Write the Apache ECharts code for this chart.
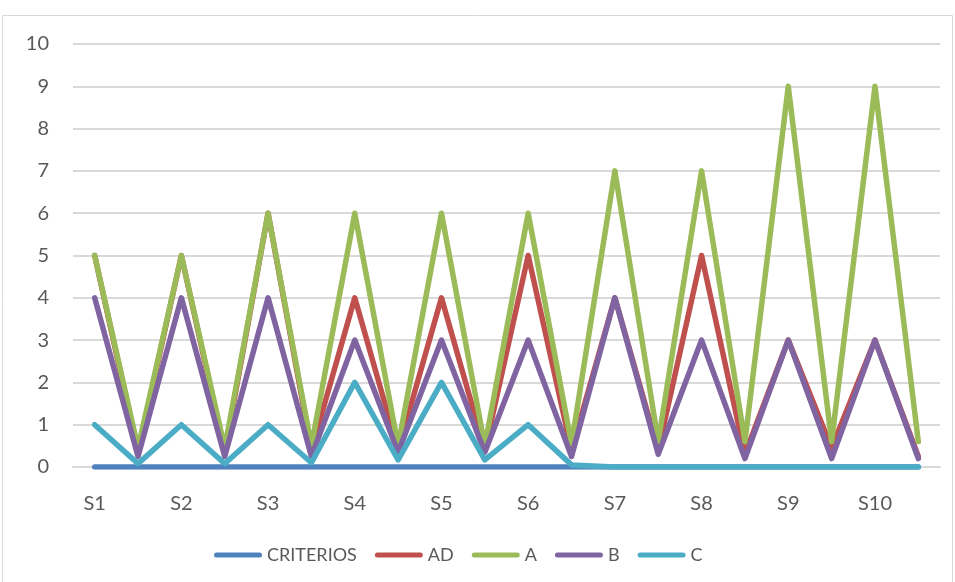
<!DOCTYPE html>
<html>
<head>
<meta charset="utf-8">
<script src="https://cdn.jsdelivr.net/npm/echarts@6/dist/echarts.min.js"></script>
<style>
  html, body { margin: 0; padding: 0; background: #fff; }
  #main { width: 955px; height: 582px; }
</style>
</head>
<body>
<div id="main"></div>
<script>
// categorias: S1..S10 con un punto intermedio sin etiqueta
var categorias = ['S1', '', 'S2', '', 'S3', '', 'S4', '', 'S5', '', 'S6', '', 'S7', '', 'S8', '', 'S9', '', 'S10', ''];
var yTicks = [0, 1, 2, 3, 4, 5, 6, 7, 8, 9, 10];

var criterios = [0, 0, 0, 0, 0, 0, 0, 0, 0, 0, 0, 0, 0, 0, 0, 0, 0, 0, 0, 0];
var ad = [5, 0.35, 5, 0.35, 6, 0.4, 4, 0.4, 4, 0.4, 5, 0.4, 4, 0.4, 5, 0.3, 3, 0.45, 3, 0.25];
var a = [5, 0.45, 5, 0.45, 6, 0.5, 6, 0.5, 6, 0.5, 6, 0.55, 7, 0.6, 7, 0.6, 9, 0.6, 9, 0.6];
var b = [4, 0.25, 4, 0.25, 4, 0.25, 3, 0.35, 3, 0.35, 3, 0.25, 4, 0.3, 3, 0.2, 3, 0.2, 3, 0.2];
var c = [1, 0.08, 1, 0.08, 1, 0.1, 2, 0.17, 2, 0.17, 1, 0.05, 0, 0, 0, 0, 0, 0, 0, 0];

var nombres = ['CRITERIOS', 'AD', 'A', 'B', 'C'];
var colores = ['#4F81BD', '#C0504D', '#9BBB59', '#8064A2', '#4BACC6'];
var valores = [criterios, ad, a, b, c];

(function () {
    var myChart = echarts.init(document.getElementById('main'));
    var fuente = 'Lato, "Liberation Sans", sans-serif';
    // icono de leyenda: barra con extremos redondeados
    var icono = 'path://M2.5,0 H45.5 A2.5,2.5 0 0 1 45.5,5 H2.5 A2.5,2.5 0 0 1 2.5,0 Z';

    var series = nombres.map(function (n, i) {
        return {
            name: n,
            type: 'line',
            data: valores[i],
            symbol: 'none',
            lineStyle: { color: colores[i], width: 5.5, cap: 'round', join: 'round' },
            itemStyle: { color: colores[i] }
        };
    });

    var option = {
        backgroundColor: '#fff',
        animation: false,
        color: colores,
        graphic: [{
            type: 'rect',
            shape: { x: 2.5, y: 15.5, width: 950, height: 580 },
            style: { fill: 'none', stroke: '#D9D9D9', lineWidth: 1 },
            silent: true
        }],
        grid: { left: 73, right: 15, top: 44, bottom: 115 },
        legend: {
            data: nombres.map(function (n) { return { name: n, icon: icono }; }),
            bottom: 13,
            left: 209,
            itemWidth: 48,
            itemHeight: 5,
            itemGap: 18,
            textStyle: { color: '#595959', fontSize: 18, fontFamily: fuente, padding: [4, 0, 0, 0] }
        },
        xAxis: {
            type: 'category',
            data: categorias,
            boundaryGap: true,
            axisLine: { show: true, lineStyle: { color: '#D9D9D9', width: 2 } },
            axisTick: { show: false },
            axisLabel: { interval: 0, color: '#595959', fontSize: 20, fontFamily: fuente, margin: 27 },
            splitLine: { show: false }
        },
        yAxis: {
            type: 'value',
            min: yTicks[0],
            max: yTicks[yTicks.length - 1],
            interval: 1,
            axisLine: { show: false },
            axisTick: { show: false },
            axisLabel: { color: '#595959', fontSize: 20, fontFamily: fuente, margin: 24, padding: [12, 0, 0, 0] },
            splitLine: { lineStyle: { color: '#D9D9D9', width: 2 } }
        },
        series: series
    };

    myChart.setOption(option);
    window.addEventListener('resize', function () {
        myChart.resize();
    });
})();
</script>
</body>
</html>
